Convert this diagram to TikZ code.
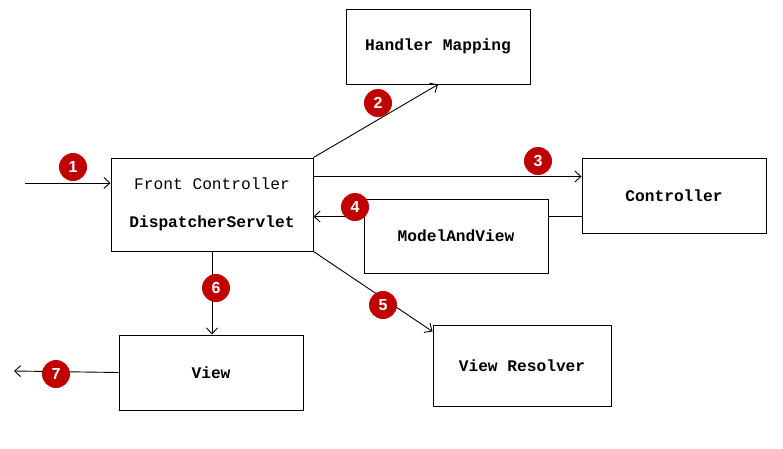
\documentclass[tikz,border=0pt]{standalone}
\usepackage{fontspec}
\setmainfont{Liberation Mono}
\newfontfamily\badgefont{Liberation Sans}
\usepackage{xcolor}
\usetikzlibrary{arrows.meta, positioning}
\definecolor{badgered}{RGB}{192,0,0}

\begin{document}
\begin{tikzpicture}[
  x=1pt, y=-1pt,
  >={Straight Barb[length=6pt,width=11pt]},
  line width=0.9pt,
  box/.style={draw, line width=1pt, inner sep=0pt, align=center, font=\fontsize{16.2}{19}\selectfont},
  badge/.style={circle, fill=badgered, minimum size=28pt, inner sep=0pt, text=white, font=\badgefont\fontsize{16}{16}\selectfont\bfseries},
]
\useasboundingbox (0,0) rectangle (783,448);

\node (hm) [box, minimum width=184pt, minimum height=75pt] at (438,46.5) {\textbf{Handler Mapping}};
\node (fc) [box, minimum width=202pt, minimum height=93pt] at (212,204.5) {Front Controller\\[19pt]\textbf{DispatcherServlet}};
\node (ctrl) [box, minimum width=184pt, minimum height=75pt] at (674,195.5) {\textbf{Controller}};
\node (mav) [box, minimum width=184pt, minimum height=74pt] at (456,236) {\textbf{ModelAndView}};
\node (vr) [box, minimum width=178pt, minimum height=81pt] at (522,365.5) {\textbf{View Resolver}};
\node (view) [box, minimum width=184pt, minimum height=75pt] at (211,372.5) {\textbf{View}};

\coordinate (req) at (25,183);
\coordinate (resp) at (14,371);

\draw[->] (req) -- (req -| fc.west);
\draw[->] (fc.north east) -- (hm.south);
\draw[->] ([yshift=-19pt]fc.north east) -- ([yshift=-19pt]fc.north east -| ctrl.west);
\draw (ctrl.west |- 0,216.5) -- (mav.east |- 0,216.5);
\draw[->] (mav.west |- 0,216.5) -- (fc.east |- 0,216.5);
\draw[->] (fc.south east) -- ([yshift=-7pt]vr.north west);
\draw[->] (fc.south) -- (fc.south |- view.north);
\draw[->] (view.west) -- (resp);

\node (b1) [badge] at (73,167) {1};
\node (b2) [badge] at (378,103) {2};
\node (b3) [badge] at (538,161) {3};
\node (b4) [badge] at (355,207) {4};
\node (b5) [badge] at (383,305) {5};
\node (b6) [badge] at (216,288) {6};
\node (b7) [badge] at (56,374) {7};
\end{tikzpicture}
\end{document}
